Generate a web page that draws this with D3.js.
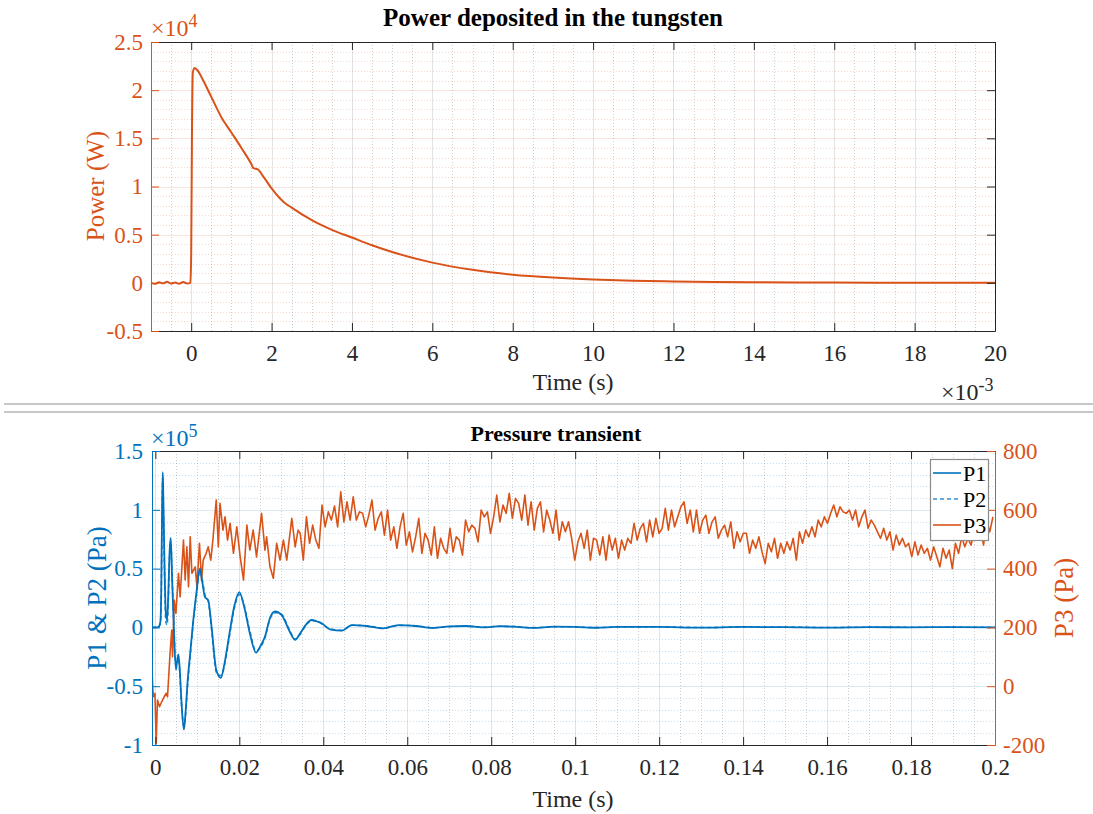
<!DOCTYPE html>
<html>
<head>
<meta charset="utf-8">
<script src="https://cdn.jsdelivr.net/npm/d3@7"></script>
<style>
  body { margin: 0; background: #fff; }
  svg text { font-family: "Liberation Serif", "Times New Roman", serif; }
</style>
</head>
<body>
<svg id="chart" width="1093" height="814"></svg>
<script>
// ---- top panel: power (time in ms, value in 1e4 W)
const powerTime = [-1.0, -0.9, -0.8, -0.7, -0.6, -0.5, -0.4, -0.3, -0.2, -0.1, -0.02,
  0.0, 0.02, 0.04, 0.08, 0.15, 0.3, 0.5, 0.75, 1.0, 1.25, 1.5, 1.55, 1.65, 1.8, 2.0,
  2.2, 2.3, 2.5, 3.0, 3.5, 4.0, 4.5, 5.0, 6.0, 7.0, 8.0, 9.0, 10, 11, 12, 13, 14, 16, 18, 20];
const powerValue = [0.0, -0.01, 0.005, -0.005, 0.01, -0.008, 0.004, -0.01, 0.008, -0.006, 0.0,
  0.3, 1.6, 2.18, 2.23, 2.21, 2.1, 1.93, 1.72, 1.56, 1.40, 1.23, 1.19, 1.18, 1.10, 0.98,
  0.88, 0.84, 0.78, 0.65, 0.55, 0.47, 0.39, 0.32, 0.21, 0.135, 0.085, 0.055, 0.035, 0.022, 0.014, 0.009, 0.006, 0.003, 0.001, 0.0];
const powerXTicks = [0, 2, 4, 6, 8, 10, 12, 14, 16, 18, 20];
const powerYTicks = [-0.5, 0, 0.5, 1, 1.5, 2, 2.5];

// ---- bottom panel: pressure (time in s, P1/P2 in 1e5 Pa, P3 in Pa)
const pTime = [-0.0008, 0.0005, 0.0009, 0.0012, 0.0014, 0.0016, 0.00176, 0.0019, 0.0022, 0.0025,
  0.0028, 0.0031, 0.0034, 0.00367, 0.0040, 0.0044, 0.0049, 0.0052, 0.0055, 0.0058,
  0.0062, 0.0068, 0.0072, 0.0077, 0.0083, 0.0090, 0.0098, 0.0106, 0.0112, 0.0118,
  0.0126, 0.0134, 0.0145, 0.0156, 0.0165, 0.0174, 0.0188, 0.0200, 0.0212, 0.0225,
  0.0240, 0.0250, 0.0261, 0.0273, 0.0285, 0.0301, 0.0318, 0.0333, 0.0345, 0.0358,
  0.0372, 0.0385, 0.0396, 0.0416, 0.0444, 0.0468, 0.0503, 0.0543, 0.058, 0.062,
  0.066, 0.070, 0.074, 0.078, 0.082, 0.086, 0.090, 0.095, 0.100, 0.105,
  0.110, 0.120, 0.130, 0.140, 0.150, 0.160, 0.170, 0.180, 0.190, 0.200];
const p1Values = [0, 0, 0.01, 0.05, 0.3, 1.0, 1.32, 1.1, 0.5, 0.12,
  0.06, 0.3, 0.65, 0.76, 0.4, 0.0, -0.36, -0.28, -0.23, -0.35,
  -0.62, -0.87, -0.72, -0.45, -0.22, 0.05, 0.30, 0.50, 0.38, 0.26,
  0.23, 0.0, -0.36, -0.43, -0.30, -0.11, 0.18, 0.30, 0.17, -0.05,
  -0.215, -0.16, -0.08, 0.08, 0.135, 0.105, -0.02, -0.105, -0.05, 0.02,
  0.063, 0.05, 0.035, -0.016, -0.028, 0.02, 0.012, -0.008, 0.02, 0.012,
  -0.005, 0.008, 0.012, 0.0, 0.01, 0.005, -0.004, 0.006, 0.004, -0.003,
  0.005, 0.004, -0.002, 0.004, 0.002, -0.002, 0.003, 0.0, 0.003, 0.001];
const p2Values = [0, 0, 0.01, 0.04, 0.25, 0.95, 1.28, 1.05, 0.42, 0.05,
  0.02, 0.25, 0.62, 0.73, 0.42, 0.03, -0.33, -0.30, -0.26, -0.38,
  -0.64, -0.84, -0.74, -0.48, -0.24, 0.03, 0.28, 0.48, 0.40, 0.28,
  0.22, -0.02, -0.38, -0.41, -0.32, -0.13, 0.16, 0.28, 0.18, -0.03,
  -0.20, -0.17, -0.09, 0.07, 0.125, 0.11, -0.01, -0.10, -0.06, 0.015,
  0.058, 0.055, 0.03, -0.012, -0.025, 0.018, 0.014, -0.006, 0.017, 0.014,
  -0.003, 0.006, 0.010, 0.002, 0.008, 0.006, -0.002, 0.005, 0.005, -0.002,
  0.004, 0.005, -0.001, 0.003, 0.003, -0.001, 0.002, 0.001, 0.002, 0.0];

const p3EarlyTime = [-0.0008, -0.0005, -0.0001, 0.0002, 0.0005, 0.0010, 0.0015, 0.0021, 0.0026, 0.0029,
  0.0035, 0.0039, 0.0041, 0.0045, 0.0049, 0.0055, 0.0059, 0.0067, 0.0071, 0.0075,
  0.0079, 0.0083, 0.0087, 0.0095, 0.0099, 0.0105, 0.0110, 0.0114, 0.0121, 0.0126,
  0.0132, 0.0137, 0.0145, 0.0150, 0.0154, 0.0161, 0.0166, 0.0172, 0.0178, 0.0186,
  0.0194, 0.0202, 0.0210, 0.0218, 0.0225, 0.0233, 0.0241, 0.0253, 0.0261, 0.0265,
  0.0273, 0.0281, 0.0289, 0.0297, 0.0305, 0.0313, 0.0325, 0.0333, 0.0340];
const p3EarlyValue = [55, -36, -24, -194, -47, -70, -53, -36, -24, -36,
  112, 191, 100, 293, 248, 384, 304, 497, 361, 474,
  338, 508, 384, 406, 338, 486, 361, 429, 452, 474,
  429, 497, 633, 474, 622, 531, 576, 497, 554, 452,
  542, 440, 361, 548, 463, 531, 440, 588, 463, 508,
  406, 367, 486, 429, 497, 429, 571, 474, 531];
// evenly sampled from 0.0345 s to 0.1995 s
const p3TailStart = 0.0345, p3TailEnd = 0.1995;
const p3TailValue = [520, 429, 576, 486, 548, 497, 469, 616, 542, 593,
  565, 613, 542, 661, 559, 627, 565, 644, 565, 593,
  588, 542, 582, 633, 531, 571, 593, 514, 599, 497,
  542, 469, 542, 588, 480, 525, 457, 508, 571, 452,
  520, 497, 446, 542, 435, 503, 469, 452, 537, 457,
  508, 497, 446, 565, 525, 548, 537, 491, 599, 576,
  593, 520, 576, 650, 559, 616, 588, 656, 571, 639,
  622, 565, 650, 548, 627, 531, 605, 627, 525, 599,
  565, 520, 599, 497, 559, 525, 559, 503, 429, 491,
  520, 469, 531, 429, 503, 497, 446, 508, 429, 514,
  463, 503, 435, 497, 463, 503, 486, 554, 497, 537,
  554, 491, 565, 508, 571, 520, 537, 605, 531, 599,
  542, 576, 610, 627, 554, 599, 525, 599, 520, 565,
  582, 520, 559, 576, 503, 531, 548, 508, 559, 469,
  525, 491, 520, 520, 452, 497, 469, 508, 457, 417,
  486, 457, 503, 435, 486, 452, 491, 463, 503, 429,
  525, 486, 531, 508, 542, 508, 565, 542, 576, 554,
  588, 616, 576, 610, 593, 588, 599, 565, 599, 542,
  576, 599, 537, 565, 548, 525, 503, 537, 497, 525,
  463, 514, 480, 503, 474, 486, 441, 491, 446, 480,
  452, 469, 429, 474, 441, 406, 469, 435, 463, 400,
  486, 452, 508, 474, 503, 480, 525, 508, 542, 480,
  565, 525, 576];
const pXTicks = [0, 0.02, 0.04, 0.06, 0.08, 0.1, 0.12, 0.14, 0.16, 0.18, 0.2];
const pLeftTicks = [-1, -0.5, 0, 0.5, 1, 1.5];
const pRightTicks = [-200, 0, 200, 400, 600, 800];
const seriesNames = ["P1", "P2", "P3"];

const ORANGE = "#D95319", BLUE = "#0072BD", AXIS = "#262626", FONT = "Liberation Serif, Times New Roman, serif";
const TICK_SIZE = 23;

const svg = d3.select("#chart");
svg.append("rect").attr("width", 1093).attr("height", 814).attr("fill", "#fff");

// separator between the two figures
svg.selectAll("line.sep").data([404, 412]).join("line")
  .attr("class", "sep")
  .attr("x1", 4).attr("x2", 1093).attr("y1", d => d).attr("y2", d => d)
  .attr("stroke", "#b4b4b4").attr("stroke-width", 1.5);

function crisp(v) { return Math.round(v) + 0.5; }

function drawGrid(g, x, y, xMajor, xMinor, yMajor, yMinor, hColor) {
  const [xl, xr] = x.range(), [yb, yt] = y.range();
  g.selectAll("line.vmin").data(xMinor).join("line").attr("class", "vmin")
    .attr("x1", d => crisp(x(d))).attr("x2", d => crisp(x(d))).attr("y1", yt).attr("y2", yb)
    .attr("stroke", AXIS).attr("stroke-opacity", 0.22).attr("stroke-dasharray", "1,2");
  g.selectAll("line.hmin").data(yMinor).join("line").attr("class", "hmin")
    .attr("x1", xl).attr("x2", xr).attr("y1", d => crisp(y(d))).attr("y2", d => crisp(y(d)))
    .attr("stroke", hColor).attr("stroke-opacity", 0.22).attr("stroke-dasharray", "1,2");
  g.selectAll("line.vmaj").data(xMajor).join("line").attr("class", "vmaj")
    .attr("x1", d => crisp(x(d))).attr("x2", d => crisp(x(d))).attr("y1", yt).attr("y2", yb)
    .attr("stroke", AXIS).attr("stroke-opacity", 0.13);
  g.selectAll("line.hmaj").data(yMajor).join("line").attr("class", "hmaj")
    .attr("x1", xl).attr("x2", xr).attr("y1", d => crisp(y(d))).attr("y2", d => crisp(y(d)))
    .attr("stroke", hColor).attr("stroke-opacity", 0.15);
}

function styleAxis(g, color, size) {
  g.attr("font-family", FONT).attr("font-size", size);
  g.select(".domain").attr("stroke", color).attr("stroke-width", 1);
  g.selectAll(".tick line").attr("stroke", color);
  g.selectAll(".tick text").attr("fill", color);
}

function expLabel(x, y, exp, color) {
  const t = svg.append("text").attr("x", x).attr("y", y).attr("fill", color)
    .attr("font-size", 24);
  t.append("tspan").text("\u00d710");
  t.append("tspan").attr("dy", -9).attr("font-size", 18).text(exp);
}

// =============== top panel
{
  const x = d3.scaleLinear().domain([-1, 20]).range([151, 995]);
  const y = d3.scaleLinear().domain([-0.5, 2.5]).range([331, 42]);
  const g = svg.append("g");
  drawGrid(g, x, y, powerXTicks, d3.range(-0.5, 20, 0.5).filter(d => d % 2 !== 0),
    powerYTicks, d3.range(-0.4, 2.5, 0.1).filter(d => Math.abs(d * 2 - Math.round(d * 2)) > 1e-6), ORANGE);

  g.append("path")
    .datum(powerTime.map((t, i) => [t, powerValue[i]]))
    .attr("fill", "none").attr("stroke", ORANGE).attr("stroke-width", 2)
    .attr("stroke-linejoin", "round")
    .attr("d", d3.line().x(d => x(d[0])).y(d => y(d[1])).curve(d3.curveMonotoneX));

  const fmt = d => String(d);
  const xb = g.append("g").attr("transform", "translate(0,331)")
    .call(d3.axisBottom(x).tickValues(powerXTicks).tickFormat(fmt).tickSize(-8).tickSizeOuter(0).tickPadding(14));
  styleAxis(xb, AXIS, TICK_SIZE);
  const xt = g.append("g").attr("transform", "translate(0,42)")
    .call(d3.axisTop(x).tickValues(powerXTicks).tickFormat("").tickSize(-8).tickSizeOuter(0));
  styleAxis(xt, AXIS, TICK_SIZE);
  const yl = g.append("g").attr("transform", "translate(151,0)")
    .call(d3.axisLeft(y).tickValues(powerYTicks).tickFormat(fmt).tickSize(-8).tickSizeOuter(0).tickPadding(8));
  styleAxis(yl, ORANGE, TICK_SIZE);
  const yr = g.append("g").attr("transform", "translate(995,0)")
    .call(d3.axisRight(y).tickValues(powerYTicks).tickFormat("").tickSize(-8).tickSizeOuter(0));
  styleAxis(yr, AXIS, TICK_SIZE);

  svg.append("text").attr("x", 553).attr("y", 26).attr("text-anchor", "middle")
    .attr("font-weight", "bold").attr("font-size", 25).attr("fill", "#000")
    .text("Power deposited in the tungsten");
  svg.append("text").attr("x", 573).attr("y", 390).attr("text-anchor", "middle")
    .attr("font-size", 24).attr("fill", AXIS).text("Time (s)");
  svg.append("text").attr("transform", "translate(95,186) rotate(-90)")
    .attr("text-anchor", "middle").attr("dominant-baseline", "central")
    .attr("font-size", 25).attr("fill", ORANGE).text("Power (W)");
  expLabel(151, 36, "4", ORANGE);
  expLabel(941, 400, "-3", AXIS);
}

// =============== bottom panel
{
  const x = d3.scaleLinear().domain([-0.0008, 0.2]).range([152, 995]);
  const yL = d3.scaleLinear().domain([-1, 1.5]).range([745, 451]);
  const yR = d3.scaleLinear().domain([-200, 800]).range([745, 451]);
  const g = svg.append("g");
  const xMinor = d3.range(0.005, 0.2, 0.005).filter(d => Math.abs(d / 0.02 - Math.round(d / 0.02)) > 1e-6);
  const yMinor = d3.range(-0.9, 1.5, 0.1).filter(d => Math.abs(d * 2 - Math.round(d * 2)) > 1e-6);
  drawGrid(g, x, yL, pXTicks, xMinor, pLeftTicks, yMinor, BLUE);

  svg.append("clipPath").attr("id", "pclip")
    .append("rect").attr("x", 152).attr("y", 451).attr("width", 843).attr("height", 294);

  const lineL = d3.line().x(d => x(d[0])).y(d => yL(d[1])).curve(d3.curveMonotoneX);
  const lineR = d3.line().x(d => x(d[0])).y(d => yR(d[1]));
  const tailT = d3.scaleLinear().domain([0, p3TailValue.length - 1]).range([p3TailStart, p3TailEnd]);
  const p3 = p3EarlyTime.map((t, i) => [t, p3EarlyValue[i]])
    .concat(p3TailValue.map((v, i) => [tailT(i), v]));

  const lines = g.append("g").attr("clip-path", "url(#pclip)");
  lines.append("path").datum(p3)
    .attr("fill", "none").attr("stroke", ORANGE).attr("stroke-width", 1.6)
    .attr("stroke-linejoin", "round").attr("d", lineR);
  lines.append("path").datum(pTime.map((t, i) => [t, p2Values[i]]))
    .attr("fill", "none").attr("stroke", "#2F8FD8").attr("stroke-width", 1.6)
    .attr("stroke-dasharray", "4,3").attr("d", lineL);
  lines.append("path").datum(pTime.map((t, i) => [t, p1Values[i]]))
    .attr("fill", "none").attr("stroke", BLUE).attr("stroke-width", 1.8)
    .attr("d", lineL);

  const fmt = d => String(d);
  const xb = g.append("g").attr("transform", "translate(0,745)")
    .call(d3.axisBottom(x).tickValues(pXTicks).tickFormat(fmt).tickSize(-8).tickSizeOuter(0).tickPadding(14));
  styleAxis(xb, AXIS, TICK_SIZE);
  const xt = g.append("g").attr("transform", "translate(0,451)")
    .call(d3.axisTop(x).tickValues(pXTicks).tickFormat("").tickSize(-8).tickSizeOuter(0));
  styleAxis(xt, AXIS, TICK_SIZE);
  const yl = g.append("g").attr("transform", "translate(152,0)")
    .call(d3.axisLeft(yL).tickValues(pLeftTicks).tickFormat(fmt).tickSize(-8).tickSizeOuter(0).tickPadding(9));
  styleAxis(yl, BLUE, TICK_SIZE);
  const yr = g.append("g").attr("transform", "translate(995,0)")
    .call(d3.axisRight(yR).tickValues(pRightTicks).tickFormat(fmt).tickSize(-8).tickSizeOuter(0).tickPadding(8));
  styleAxis(yr, ORANGE, TICK_SIZE);

  // legend
  const lg = svg.append("g").attr("transform", "translate(930,459)");
  lg.append("rect").attr("x", 0.5).attr("y", 0.5).attr("width", 58).attr("height", 81)
    .attr("fill", "#fff").attr("stroke", "#8c8c8c").attr("stroke-width", 1.2);
  const legColors = [BLUE, "#2F8FD8", ORANGE];
  const legDash = [null, "4,3", null];
  seriesNames.forEach((name, i) => {
    const yy = 14 + i * 26;
    lg.append("line").attr("x1", 3).attr("x2", 31).attr("y1", yy).attr("y2", yy)
      .attr("stroke", legColors[i]).attr("stroke-width", 1.6).attr("stroke-dasharray", legDash[i]);
    lg.append("text").attr("x", 33).attr("y", yy).attr("dy", "0.35em")
      .attr("font-size", 22).attr("fill", "#000").text(name);
  });

  svg.append("text").attr("x", 556).attr("y", 441).attr("text-anchor", "middle")
    .attr("font-weight", "bold").attr("font-size", 22).attr("fill", "#000")
    .text("Pressure transient");
  svg.append("text").attr("x", 573).attr("y", 807).attr("text-anchor", "middle")
    .attr("font-size", 24).attr("fill", AXIS).text("Time (s)");
  svg.append("text").attr("transform", "translate(97,598) rotate(-90)")
    .attr("text-anchor", "middle").attr("dominant-baseline", "central")
    .attr("font-size", 27).attr("fill", BLUE).text("P1 & P2 (Pa)");
  svg.append("text").attr("transform", "translate(1064,598) rotate(-90)")
    .attr("text-anchor", "middle").attr("dominant-baseline", "central")
    .attr("font-size", 27).attr("fill", ORANGE).text("P3 (Pa)");
  expLabel(151, 446, "5", BLUE);
}
</script>
</body>
</html>
